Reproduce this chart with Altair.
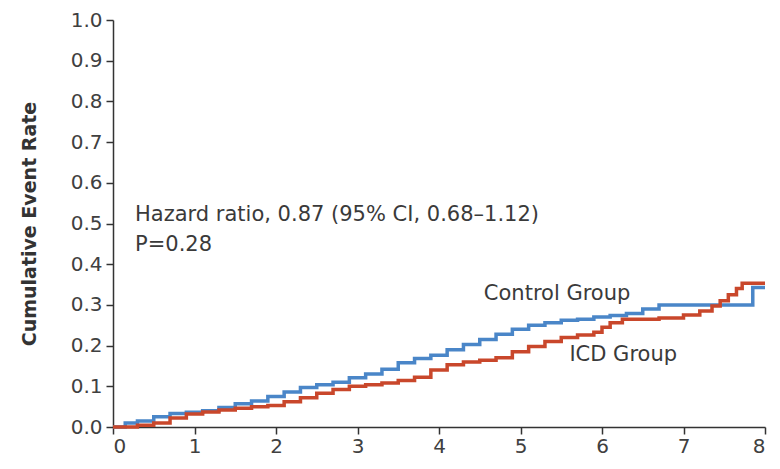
import altair as alt
import pandas as pd

control_t = [0, 0.15, 0.3, 0.5, 0.7, 0.9, 1.1, 1.3, 1.5, 1.7, 1.9, 2.1, 2.3, 2.5, 2.7, 2.9,
             3.1, 3.3, 3.5, 3.7, 3.9, 4.1, 4.3, 4.5, 4.7, 4.9, 5.1, 5.3, 5.5, 5.7, 5.9,
             6.1, 6.3, 6.5, 6.7, 7.85, 8.0]
control_v = [0, 0.01, 0.015, 0.025, 0.033, 0.036, 0.04, 0.048, 0.057, 0.064, 0.075, 0.086,
             0.097, 0.104, 0.11, 0.121, 0.13, 0.142, 0.158, 0.168, 0.176, 0.19, 0.203, 0.215,
             0.228, 0.24, 0.25, 0.256, 0.262, 0.265, 0.27, 0.274, 0.279, 0.29, 0.30, 0.343, 0.343]

icd_t = [0, 0.3, 0.5, 0.7, 0.9, 1.1, 1.3, 1.5, 1.7, 1.9, 2.1, 2.3, 2.5, 2.7, 2.9, 3.1, 3.3,
         3.5, 3.7, 3.9, 4.1, 4.3, 4.5, 4.7, 4.9, 5.1, 5.3, 5.5, 5.7, 5.9, 6.0, 6.1, 6.25,
         6.7, 7.0, 7.2, 7.35, 7.45, 7.55, 7.65, 7.72, 8.0]
icd_v = [0, 0.004, 0.01, 0.022, 0.032, 0.037, 0.042, 0.046, 0.05, 0.053, 0.062, 0.072, 0.083,
         0.092, 0.1, 0.104, 0.108, 0.114, 0.122, 0.14, 0.153, 0.16, 0.164, 0.17, 0.185, 0.198,
         0.21, 0.22, 0.226, 0.233, 0.245, 0.256, 0.265, 0.268, 0.275, 0.285, 0.297, 0.31,
         0.325, 0.34, 0.353, 0.353]

x_ticks = [0, 1, 2, 3, 4, 5, 6, 7, 8]
y_ticks = [0.0, 0.1, 0.2, 0.3, 0.4, 0.5, 0.6, 0.7, 0.8, 0.9, 1.0]

labels = ["Hazard ratio, 0.87 (95% CI, 0.68\u20131.12)", "P=0.28", "Control Group", "ICD Group"]
label_t = [0.27, 0.27, 4.55, 5.6]
label_v = [0.52, 0.448, 0.326, 0.178]

df = pd.concat([
    pd.DataFrame({"t": control_t, "v": control_v, "group": "Control Group"}),
    pd.DataFrame({"t": icd_t, "v": icd_v, "group": "ICD Group"}),
])
ann = pd.DataFrame({"t": label_t, "v": label_v, "text": labels})

FONT = "DejaVu Sans"

x_enc = alt.X("t:Q", scale=alt.Scale(domain=[0, 8], nice=False),
              axis=alt.Axis(values=x_ticks, title=None, format="d", grid=False,
                            tickSize=7, labelFontSize=20, labelPadding=2,
                            domainColor="#333", tickColor="#333", labelColor="#404040",
                            labelFont=FONT, domainWidth=1.5, tickWidth=1.5))
y_enc = alt.Y("v:Q", scale=alt.Scale(domain=[0, 1], nice=False),
              axis=alt.Axis(values=y_ticks, title="Cumulative Event Rate", format=".1f",
                            grid=False, tickSize=7, labelFontSize=20, labelPadding=4,
                            domainColor="#333", tickColor="#333", labelColor="#404040",
                            labelFont=FONT, titleFont=FONT, titleFontSize=19,
                            titleFontWeight="bold", titleColor="#333", titlePadding=31,
                            domainWidth=1.5, tickWidth=1.5))

lines = alt.Chart(df).mark_line(interpolate="step-after", strokeWidth=3.5).encode(
    x=x_enc, y=y_enc,
    color=alt.Color("group:N", scale=alt.Scale(domain=["Control Group", "ICD Group"],
                                               range=["#4a86c8", "#c9472b"]), legend=None),
    order=alt.Order("t:Q"),
)

text = alt.Chart(ann).mark_text(align="left", baseline="middle", fontSize=21, font=FONT,
                                color="#3a3a3a").encode(
    x="t:Q", y="v:Q", text="text:N")

chart = alt.layer(lines, text).properties(
    width=652, height=407,
    autosize=alt.AutoSizeParams(type="none"),
    padding={"left": 105, "top": 12, "right": 7, "bottom": 34},
).configure_view(stroke=None)

chart.save("out.html", embed_options={"renderer": "svg", "actions": False})
